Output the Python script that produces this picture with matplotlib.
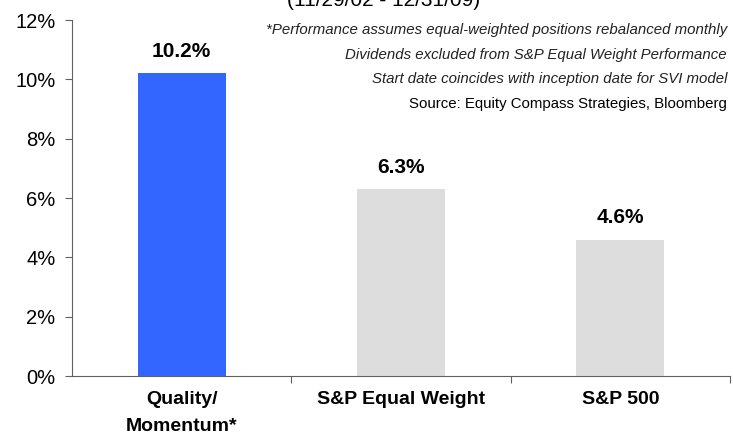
import matplotlib
matplotlib.use('Agg')
import matplotlib.pyplot as plt
from matplotlib.ticker import FuncFormatter

categories = ['Quality/\nMomentum*', 'S&P Equal Weight', 'S&P 500']
values = [10.2, 6.3, 4.6]
bar_colors = ['#3366FF', '#DDDDDD', '#DDDDDD']
notes = ['*Performance assumes equal-weighted positions rebalanced monthly',
         'Dividends excluded from S&P Equal Weight Performance',
         'Start date coincides with inception date for SVI model']
source = 'Source: Equity Compass Strategies, Bloomberg'
subtitle = '(11/29/02 - 12/31/09)'

plt.rcParams['font.family'] = ['Liberation Sans', 'DejaVu Sans']

fig = plt.figure(figsize=(7.33, 4.41), dpi=100)
ax = fig.add_axes([72 / 733, 1 - 376 / 441, 658 / 733, 356 / 441])

x = range(len(categories))
bars = ax.bar(x, values, width=0.4, color=bar_colors)
for b, v in zip(bars, values):
    ax.annotate('%.1f%%' % v, (b.get_x() + b.get_width() / 2, v),
                xytext=(0, 9), textcoords='offset points',
                ha='center', va='bottom', fontsize=15, fontweight='bold')

ax.set_xlim(-0.5, 2.5)
ax.set_ylim(0, 12)
ax.set_yticks(range(0, 13, 2))
ax.yaxis.set_major_formatter(FuncFormatter(lambda v, p: '%d%%' % v))
ax.tick_params(axis='y', labelsize=14.5, length=5, pad=7, color='#606060')

ax.set_xticks([0.5, 1.5, 2.5])
ax.set_xticklabels([])
ax.tick_params(axis='x', length=5, color='#606060')
ax.set_xticks(list(x), minor=True)
ax.set_xticklabels(categories, minor=True, fontsize=14, fontweight='bold',
                   linespacing=1.75)
ax.tick_params(axis='x', which='minor', length=0, pad=11)

for s in ['top', 'right']:
    ax.spines[s].set_visible(False)
for s in ['left', 'bottom']:
    ax.spines[s].set_color('#606060')

for i, n in enumerate(notes):
    fig.text(727 / 733, 1 - (34 + 24.5 * i) / 441, n, ha='right', va='baseline',
             fontsize=10.8, style='italic', color='#222222')
fig.text(727 / 733, 1 - 108 / 441, source, ha='right', va='baseline',
         fontsize=10.8, color='#000000')
fig.text(384 / 733, 1 - 6 / 441, subtitle, ha='center', va='baseline', fontsize=15)

fig.savefig('out.png', dpi=100)
